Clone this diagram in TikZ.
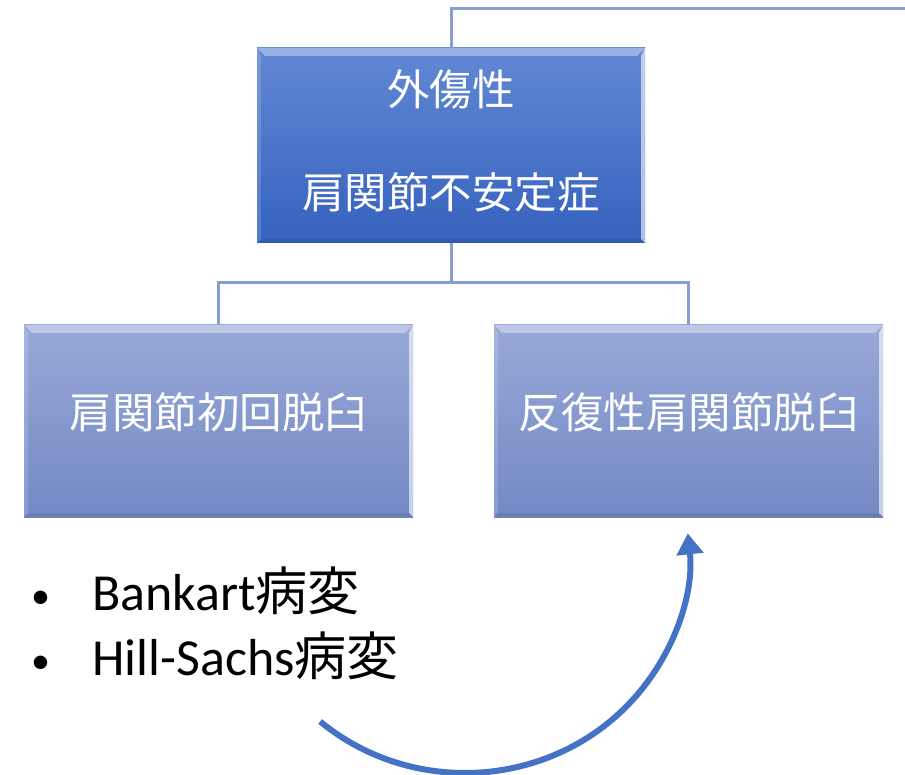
\documentclass[tikz,border=0pt]{standalone}
\usepackage{fontspec}
\setmainfont{Carlito}
\newfontfamily\cjk{Noto Sans CJK JP}
\usetikzlibrary{arrows.meta}
\definecolor{topA}{RGB}{98,136,212}
\definecolor{topB}{RGB}{54,98,190}
\definecolor{subA}{RGB}{152,169,216}
\definecolor{subB}{RGB}{116,137,196}
\definecolor{connc}{RGB}{134,158,212}
\definecolor{arrowblue}{RGB}{68,114,196}
\newcommand\bevelbox[1]{%
  \fill[white, fill opacity=0.35] (#1.north west) -- (#1.north east) -- ([shift={(-8,8)}]#1.north east) -- ([shift={(8,8)}]#1.north west) -- cycle;
  \fill[white, fill opacity=0.6] (#1.north east) -- (#1.south east) -- ([shift={(-4,-4)}]#1.south east) -- ([shift={(-4,8)}]#1.north east) -- cycle;
  \fill[white, fill opacity=0.15] (#1.north west) -- (#1.south west) -- ([shift={(4,-4)}]#1.south west) -- ([shift={(4,8)}]#1.north west) -- cycle;
  \fill[black, fill opacity=0.08] (#1.south west) -- (#1.south east) -- ([shift={(-4,-4)}]#1.south east) -- ([shift={(4,-4)}]#1.south west) -- cycle;
}
\newcommand\lesionbullet{\makebox[61pt][l]{\raisebox{2pt}{\fontsize{38}{38}\selectfont •}}}
\begin{document}
\begin{tikzpicture}[x=1pt,y=-1pt,
  topbox/.style={inner sep=0pt, minimum width=388pt, minimum height=195pt,
    top color=topA, bottom color=topB, text=white, align=center,
    font=\cjk\fontsize{42.5}{50}\selectfont, text depth=13pt},
  subbox/.style={inner sep=0pt, minimum width=389pt, minimum height=192pt,
    top color=subA, bottom color=subB, text=white,
    font=\cjk\fontsize{42.5}{50}\selectfont, text depth=21pt},
  connline/.style={draw=connc, line width=3pt},
  recurarrow/.style={draw=arrowblue, line width=6pt, -{Triangle[width=26pt,length=21pt]}},
  lesion/.style={anchor=base west, inner sep=0pt, font=\fontsize{52}{65}\selectfont, text=black}
]
\useasboundingbox (0,0) rectangle (905,775);
\fill[white] (0,0) rectangle (905,775);

\node[topbox] (top) at (451,145.5) {外傷性\\[53pt]肩関節不安定症};
\node[subbox] (first) at (218.5,421) {肩関節初回脱臼};
\node[subbox] (recur) at (688.5,421) {反復性肩関節脱臼};
\bevelbox{top}
\bevelbox{first}
\bevelbox{recur}

\coordinate (topfree) at (906,9);
\coordinate (fork) at (451,283);
\draw[connline] (top.north) |- (topfree);
\draw[connline] (top.south) -- (fork) -| (first.north);
\draw[connline] (fork) -| (recur.north);

\node[lesion] (bankart) at (31,610) {\lesionbullet Bankart{\cjk 病変}};
\node[lesion] (hillsachs) at (31,675) {\lesionbullet Hill-Sachs{\cjk 病変}};

\coordinate (cyc) at (465,556);
\draw[recurarrow] ([shift={(130.3:224 and 217)}]cyc) arc[start angle=130.3, end angle=-6, x radius=224, y radius=217];
\end{tikzpicture}
\end{document}
